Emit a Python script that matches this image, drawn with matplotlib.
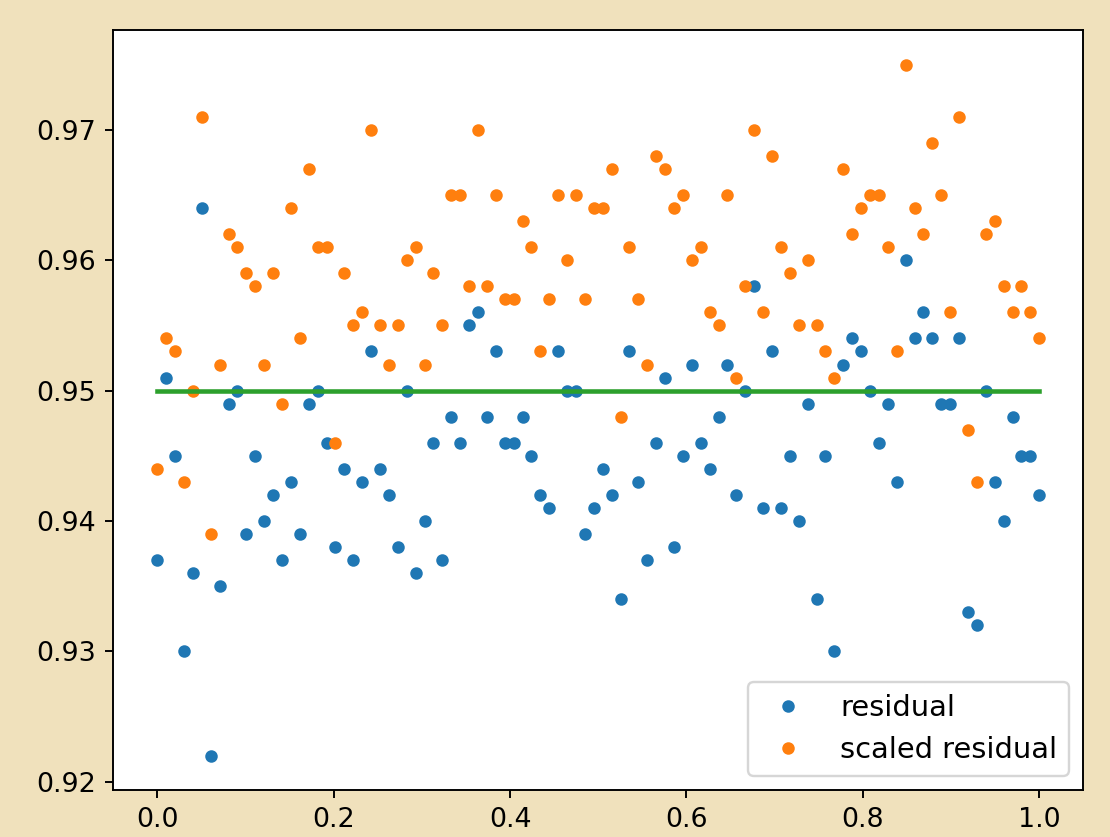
import numpy as np
import matplotlib
matplotlib.use("Agg")
import matplotlib.pyplot as plt

residual = [
    0.937, 0.951, 0.945, 0.930, 0.936, 0.964, 0.922, 0.935, 0.949, 0.950,
    0.939, 0.945, 0.940, 0.942, 0.937, 0.943, 0.939, 0.949, 0.950, 0.946,
    0.938, 0.944, 0.937, 0.943, 0.953, 0.944, 0.942, 0.938, 0.950, 0.936,
    0.940, 0.946, 0.937, 0.948, 0.946, 0.955, 0.956, 0.948, 0.953, 0.946,
    0.946, 0.948, 0.945, 0.942, 0.941, 0.953, 0.950, 0.950, 0.939, 0.941,
    0.944, 0.942, 0.934, 0.953, 0.943, 0.937, 0.946, 0.951, 0.938, 0.945,
    0.952, 0.946, 0.944, 0.948, 0.952, 0.942, 0.950, 0.958, 0.941, 0.953,
    0.941, 0.945, 0.940, 0.949, 0.934, 0.945, 0.930, 0.952, 0.954, 0.953,
    0.950, 0.946, 0.949, 0.943, 0.960, 0.954, 0.956, 0.954, 0.949, 0.949,
    0.954, 0.933, 0.932, 0.950, 0.943, 0.940, 0.948, 0.945, 0.945, 0.942,
]
scaled_residual = [
    0.944, 0.954, 0.953, 0.943, 0.950, 0.971, 0.939, 0.952, 0.962, 0.961,
    0.959, 0.958, 0.952, 0.959, 0.949, 0.964, 0.954, 0.967, 0.961, 0.961,
    0.946, 0.959, 0.955, 0.956, 0.970, 0.955, 0.952, 0.955, 0.960, 0.961,
    0.952, 0.959, 0.955, 0.965, 0.965, 0.958, 0.970, 0.958, 0.965, 0.957,
    0.957, 0.963, 0.961, 0.953, 0.957, 0.965, 0.960, 0.965, 0.957, 0.964,
    0.964, 0.967, 0.948, 0.961, 0.957, 0.952, 0.968, 0.967, 0.964, 0.965,
    0.960, 0.961, 0.956, 0.955, 0.965, 0.951, 0.958, 0.970, 0.956, 0.968,
    0.961, 0.959, 0.955, 0.960, 0.955, 0.953, 0.951, 0.967, 0.962, 0.964,
    0.965, 0.965, 0.961, 0.953, 0.975, 0.964, 0.962, 0.969, 0.965, 0.956,
    0.971, 0.947, 0.943, 0.962, 0.963, 0.958, 0.956, 0.958, 0.956, 0.954,
]
x = np.linspace(0, 1, len(residual))
target_x = [0.0, 1.0]
target_y = [0.95, 0.95]

fig = plt.figure(figsize=(1110 / 173, 837 / 173), dpi=173)
fig.patch.set_facecolor("#F0E1BC")
ax = fig.add_axes([0.102, 0.056, 0.874, 0.908])
ax.plot(x, residual, "o", markersize=4.2, color="tab:blue", label="residual")
ax.plot(x, scaled_residual, "o", markersize=4.2, color="tab:orange", label="scaled residual")
ax.plot(target_x, target_y, color="tab:green", linewidth=1.9)
ax.tick_params(labelsize=11.2)
ax.legend(loc="lower right", fontsize=12)
fig.savefig("out.png", dpi=173, facecolor=fig.get_facecolor())
